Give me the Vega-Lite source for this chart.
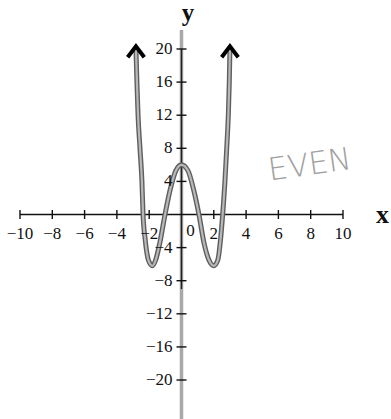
{
  "$schema": "https://vega.github.io/schema/vega-lite/v6.json",
  "width": 391,
  "height": 419,
  "padding": 0,
  "autosize": {"type": "none"},
  "background": "white",
  "view": {"stroke": null},
  "datasets": {
    "curve": [
      {"x": -2.82, "y": 20}, {"x": -2.76, "y": 16}, {"x": -2.69, "y": 12}, {"x": -2.57, "y": 8},
      {"x": -2.45, "y": 4}, {"x": -2.38, "y": 0}, {"x": -2.25, "y": -3}, {"x": -2.05, "y": -5.5},
      {"x": -1.8, "y": -6.2}, {"x": -1.6, "y": -5.5}, {"x": -1.35, "y": -3.5}, {"x": -1.02, "y": 0},
      {"x": -0.7, "y": 3}, {"x": -0.35, "y": 5.3}, {"x": 0, "y": 6}, {"x": 0.4, "y": 5.3},
      {"x": 0.75, "y": 3}, {"x": 1.08, "y": 0}, {"x": 1.4, "y": -3.5}, {"x": 1.7, "y": -5.5},
      {"x": 2.0, "y": -6.2}, {"x": 2.25, "y": -5.5}, {"x": 2.42, "y": -3}, {"x": 2.55, "y": 0},
      {"x": 2.69, "y": 4}, {"x": 2.8, "y": 8}, {"x": 2.9, "y": 12}, {"x": 2.96, "y": 16}, {"x": 3.0, "y": 20}
    ],
    "arrows": [{"x": -2.82, "y": 20}, {"x": 3.0, "y": 20}],
    "xaxis": [{"x": -10, "x2": 10, "y": 0}],
    "yaxisFull": [{"x": 0, "y": 22.3, "y2": -25}],
    "yaxisDark": [{"x": 0, "y": 20, "y2": -9}],
    "xticks": [
      {"x": -10, "y": 0, "label": "−10"}, {"x": -8, "y": 0, "label": "−8"}, {"x": -6, "y": 0, "label": "−6"},
      {"x": -4, "y": 0, "label": "−4"}, {"x": -2, "y": 0, "label": "−2"}, {"x": 2, "y": 0, "label": "2"},
      {"x": 4, "y": 0, "label": "4"}, {"x": 6, "y": 0, "label": "6"}, {"x": 8, "y": 0, "label": "8"},
      {"x": 10, "y": 0, "label": "10"}
    ],
    "yticks": [
      {"x": 0, "y": 20, "label": "20"}, {"x": 0, "y": 16, "label": "16"}, {"x": 0, "y": 12, "label": "12"},
      {"x": 0, "y": 8, "label": "8"}, {"x": 0, "y": 4, "label": "4"}, {"x": 0, "y": -4, "label": "−4"},
      {"x": 0, "y": -8, "label": "−8"}, {"x": 0, "y": -12, "label": "−12"}, {"x": 0, "y": -16, "label": "−16"},
      {"x": 0, "y": -20, "label": "−20"}
    ],
    "origin": [{"x": 0, "y": 0, "label": "0"}],
    "ytitle": [{"x": 0.4, "y": 24.3, "label": "y"}],
    "xtitle": [{"x": 12.45, "y": 0, "label": "x"}],
    "note": [{"x": 7.95, "y": 5.9, "label": "EVEN"}]
  },
  "encoding": {
    "x": {"field": "x", "type": "quantitative", "scale": {"domain": [-11.238, 12.973], "nice": false, "zero": false}, "axis": null},
    "y": {"field": "y", "type": "quantitative", "scale": {"domain": [-24.71, 25.92], "nice": false, "zero": false}, "axis": null}
  },
  "layer": [
    {"data": {"name": "yaxisFull"}, "mark": {"type": "rule", "color": "#a8a8a8", "strokeWidth": 3.5}, "encoding": {"y2": {"field": "y2"}}},
    {"data": {"name": "yaxisDark"}, "mark": {"type": "rule", "color": "#222222", "strokeWidth": 1.4}, "encoding": {"y2": {"field": "y2"}}},
    {"data": {"name": "xaxis"}, "mark": {"type": "rule", "color": "#111111", "strokeWidth": 1.5}, "encoding": {"x2": {"field": "x2"}}},
    {"data": {"name": "xticks"}, "mark": {"type": "tick", "orient": "vertical", "size": 9, "thickness": 1.4, "color": "#111111", "opacity": 1}},
    {"data": {"name": "yticks"}, "mark": {"type": "tick", "orient": "horizontal", "size": 10, "thickness": 1.4, "color": "#111111", "opacity": 1}},
    {"data": {"name": "curve"}, "mark": {"type": "line", "interpolate": "monotone", "color": "#5e5e5e", "strokeWidth": 5, "strokeCap": "round", "strokeJoin": "round"}},
    {"data": {"name": "curve"}, "mark": {"type": "line", "interpolate": "monotone", "color": "#b8b8b8", "strokeWidth": 2.2, "strokeCap": "round", "strokeJoin": "round"}},
    {"data": {"name": "arrows"}, "mark": {"type": "point", "shape": "M -0.9 0.9 L 0 -0.3 L 0.9 0.9", "filled": false, "size": 340, "stroke": "#000000", "strokeWidth": 4, "strokeJoin": "miter", "opacity": 1}},
    {"data": {"name": "xticks"}, "mark": {"type": "text", "font": "Liberation Serif, Times New Roman, serif", "fontSize": 17, "color": "#111111", "align": "center", "baseline": "middle", "dy": 19}, "encoding": {"text": {"field": "label"}}},
    {"data": {"name": "yticks"}, "mark": {"type": "text", "font": "Liberation Serif, Times New Roman, serif", "fontSize": 17, "color": "#111111", "align": "right", "baseline": "middle", "dx": -9}, "encoding": {"text": {"field": "label"}}},
    {"data": {"name": "origin"}, "mark": {"type": "text", "font": "Liberation Serif, Times New Roman, serif", "fontSize": 17, "color": "#111111", "align": "center", "baseline": "middle", "dx": 9, "dy": 16}, "encoding": {"text": {"field": "label"}}},
    {"data": {"name": "ytitle"}, "mark": {"type": "text", "font": "Liberation Serif, Times New Roman, serif", "fontSize": 25, "fontWeight": "bold", "color": "#111111", "align": "center", "baseline": "middle"}, "encoding": {"text": {"field": "label"}}},
    {"data": {"name": "xtitle"}, "mark": {"type": "text", "font": "Liberation Serif, Times New Roman, serif", "fontSize": 26, "fontWeight": "bold", "color": "#111111", "align": "center", "baseline": "middle"}, "encoding": {"text": {"field": "label"}}},
    {"data": {"name": "note"}, "mark": {"type": "text", "font": "DejaVu Sans", "fontSize": 31, "fontWeight": 200, "color": "#a0a0a0", "align": "center", "baseline": "middle", "angle": 352}, "encoding": {"text": {"field": "label"}}}
  ]
}
